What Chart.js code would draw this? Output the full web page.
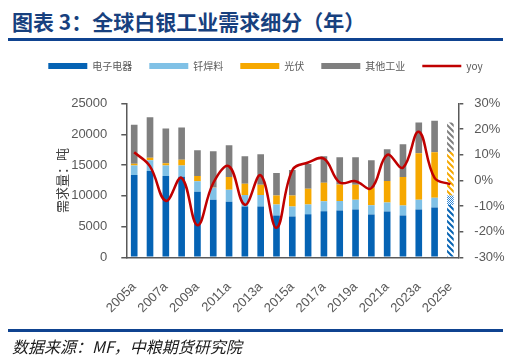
<!DOCTYPE html>
<html>
<head>
<meta charset="utf-8">
<script src="https://cdn.jsdelivr.net/npm/chart.js@4/dist/chart.umd.min.js"></script>
<style>
  html, body { margin: 0; padding: 0; background: #fff; }
  #page { position: relative; width: 531px; height: 363px; overflow: hidden; }
  #title { position: absolute; left: 12px; top: 10px; font: bold 21px 'Noto Sans CJK SC', sans-serif; color: #17407e; line-height: 23px; white-space: nowrap; }
  .rule { position: absolute; left: 8px; width: 495px; height: 3px; background: #0f4390; }
  #source { position: absolute; left: 12px; top: 337px; font: italic 16px 'Noto Sans CJK SC', sans-serif; color: #1a1a1a; line-height: 18px; white-space: nowrap; }
  #wrap { position: absolute; left: 0; top: 44px; width: 531px; height: 286px; }
</style>
</head>
<body>
<div id="page">
  <div id="title">图表 3：全球白银工业需求细分（年）</div>
  <div class="rule" style="top: 38px;"></div>
  <div id="wrap"><canvas id="silver-chart"></canvas></div>
  <div class="rule" style="top: 329px;"></div>
  <div id="source">数据来源：MF，中粮期货研究院</div>
</div>
<script>
// Global silver industrial demand breakdown (tonnes), 2005a-2025e
const years = ['2005a', '2006a', '2007a', '2008a', '2009a', '2010a', '2011a', '2012a', '2013a', '2014a',
    '2015a', '2016a', '2017a', '2018a', '2019a', '2020a', '2021a', '2022a', '2023a', '2024a', '2025e'];
const electronics = [13390, 14030, 13230, 13120, 10660, 9370, 9050, 8250, 8250, 6800,
    6640, 7020, 7500, 7610, 7770, 6960, 7445, 6800, 7770, 8090, 8510];
const solder = [1550, 1770, 1710, 1820, 1710, 1930, 1930, 1875, 1875, 1770,
    1610, 1550, 1610, 1550, 1610, 1500, 1450, 1610, 1610, 1610, 1550];
const photovoltaic = [270, 375, 375, 910, 860, 50, 2090, 1820, 1660, 1500,
    1820, 2570, 3000, 2680, 2410, 2840, 3535, 4660, 7550, 7390, 7050];
const otherIndustry = [6370, 6590, 5625, 5250, 4180, 5890, 5140, 4500, 4980, 3640,
    4120, 4020, 4340, 4445, 4500, 4500, 5140, 5300, 4980, 5140, 4800];
const yoy = [11, 5.5, -8, 1, -17.5, -1, 5.5, -9.5, 2, -18.5,
    4, 7, 8.5, -0.8, -0.3, -3, 10, 5, 19, 1, -1.5];

const leftTicks = [0, 5000, 10000, 15000, 20000, 25000];
const rightTicks = [-30, -20, -10, 0, 10, 20, 30];

const BLUE = '#0563b4';
const LIGHT_BLUE = '#80c1e6';
const ORANGE = '#f6a800';
const GRAY = '#7f7f7f';
const RED = '#c00000';
const AXIS = '#595959';

// hatch patterns for the estimate year
function stripePattern(color) {
    const c = document.createElement('canvas');
    c.width = 6; c.height = 6;
    const g = c.getContext('2d');
    g.fillStyle = '#fff';
    g.fillRect(0, 0, 6, 6);
    g.strokeStyle = color;
    g.lineWidth = 2;
    g.beginPath();
    g.moveTo(0, 0); g.lineTo(6, 6);
    g.moveTo(-1, 5); g.lineTo(1, 7);
    g.moveTo(5, -1); g.lineTo(7, 1);
    g.stroke();
    return g.createPattern(c, 'repeat');
}
function checkerPattern(color) {
    const c = document.createElement('canvas');
    c.width = 2; c.height = 2;
    const g = c.getContext('2d');
    g.fillStyle = '#fff';
    g.fillRect(0, 0, 2, 2);
    g.fillStyle = color;
    g.fillRect(0, 0, 1, 1);
    g.fillRect(1, 1, 1, 1);
    return g.createPattern(c, 'repeat');
}
function withEstimate(color, pattern) {
    return years.map((y, i) => i === years.length - 1 ? pattern : color);
}

function barSet(label, data, color, pattern) {
    return {
        type: 'bar', label: label, data: data,
        backgroundColor: withEstimate(color, pattern),
        borderWidth: 0, pointStyle: 'rect',
        yAxisID: 'y', stack: 'demand', order: 1,
        barPercentage: 0.42, categoryPercentage: 1
    };
}

Chart.defaults.font.family = "'Liberation Sans', 'Noto Sans CJK SC', sans-serif";
Chart.defaults.color = AXIS;

new Chart(document.getElementById('silver-chart'), {
    data: {
        labels: years,
        datasets: [
            barSet('电子电器', electronics, BLUE, stripePattern(BLUE)),
            barSet('钎焊料', solder, LIGHT_BLUE, checkerPattern('#2f86d6')),
            barSet('光伏', photovoltaic, ORANGE, stripePattern(ORANGE)),
            barSet('其他工业', otherIndustry, GRAY, stripePattern(GRAY)),
            {
                type: 'line', label: 'yoy', data: yoy,
                borderColor: RED, backgroundColor: RED, borderWidth: 2.5,
                pointRadius: 0, pointStyle: 'line', tension: 0.4,
                yAxisID: 'y1', order: 0
            }
        ]
    },
    options: {
        responsive: true,
        maintainAspectRatio: false,
        devicePixelRatio: 1,
        animation: false,
        layout: { padding: 0 },
        plugins: {
            tooltip: { enabled: false },
            legend: {
                position: 'top',
                weight: 1000,
                labels: {
                    usePointStyle: true,
                    pointStyleWidth: 39,
                    boxHeight: 6,
                    padding: 17,
                    color: AXIS,
                    font: { family: "'Noto Sans CJK SC', sans-serif", size: 10 },
                    sort: (a, b) => a.datasetIndex - b.datasetIndex
                }
            },
            // empty spacer between legend and plot area
            title: {
                display: true, text: ' ', position: 'top', weight: 500,
                font: { size: 1 }, padding: { top: 21.4, bottom: 0 }
            }
        },
        scales: {
            x: {
                stacked: true,
                grid: { display: false },
                border: { display: true, color: AXIS, width: 1.5 },
                ticks: {
                    autoSkip: false, maxRotation: 45, minRotation: 45,
                    padding: 14, font: { size: 13 }, color: AXIS,
                    callback: function (v, i) { return i % 2 === 0 ? years[i] : ''; }
                },
                afterFit: s => { s.height = 72.7; }
            },
            y: {
                stacked: true,
                position: 'left',
                min: 0, max: 25000,
                afterBuildTicks: s => { s.ticks = leftTicks.map(v => ({ value: v })); },
                grid: { drawOnChartArea: false, tickLength: 5, color: AXIS, lineWidth: 1.5 },
                border: { display: true, color: AXIS, width: 1.5 },
                ticks: { padding: 14, font: { size: 13 }, color: AXIS, callback: v => String(v) },
                title: {
                    display: true, text: '需求量：吨', color: '#404040',
                    font: { family: "'Noto Sans CJK SC', sans-serif", size: 13 },
                    padding: { top: 54, bottom: 0 }
                },
                afterFit: s => { s.width = 126.3; }
            },
            y1: {
                position: 'right',
                min: -30, max: 30,
                afterBuildTicks: s => { s.ticks = rightTicks.map(v => ({ value: v })); },
                grid: { drawOnChartArea: false, tickLength: 5, color: AXIS, lineWidth: 1.5 },
                border: { display: true, color: AXIS, width: 1.5 },
                ticks: { padding: 11, font: { size: 13 }, color: AXIS, callback: v => v + '%' },
                afterFit: s => { s.width = 72.7; }
            }
        }
    }
});
</script>
</body>
</html>
